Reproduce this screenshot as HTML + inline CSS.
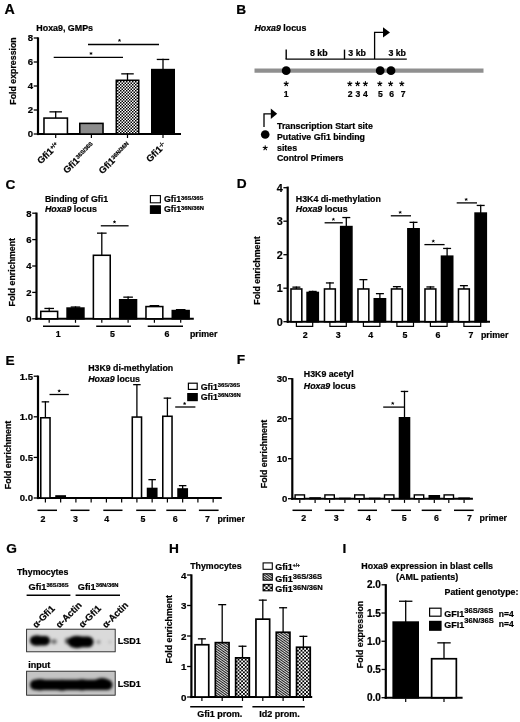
<!DOCTYPE html>
<html><head><meta charset="utf-8"><title>Figure</title>
<style>
html,body{margin:0;padding:0;background:#fff;}
body{width:520px;height:722px;overflow:hidden;}
svg{display:block;filter:blur(0.45px);}
svg text{font-family:"Liberation Sans",sans-serif;font-weight:bold;fill:#000;stroke:#000;stroke-width:0.22px;}
</style></head><body>
<svg width="520" height="722" viewBox="0 0 520 722">
<rect width="520" height="722" fill="#fff"/>
<defs>
<pattern id="chk" width="3" height="3" patternUnits="userSpaceOnUse">
<rect width="3" height="3" fill="#fff"/><rect width="1.5" height="1.5" fill="#000"/><rect x="1.5" y="1.5" width="1.5" height="1.5" fill="#000"/>
</pattern>
<pattern id="chk2" width="3.6" height="3.6" patternUnits="userSpaceOnUse">
<rect width="3.6" height="3.6" fill="#fff"/><rect width="1.8" height="1.8" fill="#000"/><rect x="1.8" y="1.8" width="1.8" height="1.8" fill="#000"/>
</pattern>
<pattern id="hat" width="2" height="2" patternUnits="userSpaceOnUse" patternTransform="rotate(-55)">
<rect width="2" height="2" fill="#f4f4f4"/><rect width="1.1" height="2" fill="#1c1c1c"/>
</pattern>
<pattern id="chk3" x="263.1" y="584.4" width="4.6" height="4.6" patternUnits="userSpaceOnUse">
<rect width="4.6" height="4.6" fill="#fff"/><rect width="2.3" height="2.3" fill="#000"/><rect x="2.3" y="2.3" width="2.3" height="2.3" fill="#000"/>
</pattern>
<filter id="b1" x="-20%" y="-50%" width="140%" height="200%"><feGaussianBlur stdDeviation="1.4"/></filter>
<filter id="b2" x="-20%" y="-50%" width="140%" height="200%"><feGaussianBlur stdDeviation="1.7"/></filter>
</defs>
<text x="4.6" y="14.4" font-size="14.2">A</text>
<text x="36.3" y="31.4" font-size="8.9">Hoxa9, GMPs</text>
<line x1="38" y1="37.35" x2="38" y2="135.1" stroke="#000" stroke-width="2.2"/>
<line x1="33.699999999999996" y1="38.0" x2="38" y2="38.0" stroke="#000" stroke-width="1.3"/>
<text x="33.099999999999994" y="41.4368" font-size="9.6" text-anchor="end">8</text>
<line x1="33.699999999999996" y1="62.0" x2="38" y2="62.0" stroke="#000" stroke-width="1.3"/>
<text x="33.099999999999994" y="65.4368" font-size="9.6" text-anchor="end">6</text>
<line x1="33.699999999999996" y1="86.0" x2="38" y2="86.0" stroke="#000" stroke-width="1.3"/>
<text x="33.099999999999994" y="89.4368" font-size="9.6" text-anchor="end">4</text>
<line x1="33.699999999999996" y1="110.0" x2="38" y2="110.0" stroke="#000" stroke-width="1.3"/>
<text x="33.099999999999994" y="113.4368" font-size="9.6" text-anchor="end">2</text>
<line x1="33.699999999999996" y1="134.0" x2="38" y2="134.0" stroke="#000" stroke-width="1.3"/>
<text x="33.099999999999994" y="137.4368" font-size="9.6" text-anchor="end">0</text>
<line x1="37" y1="134.0" x2="181" y2="134.0" stroke="#000" stroke-width="2"/>
<text x="15.8504" y="71" font-size="8.8" text-anchor="middle" transform="rotate(-90 15.8504 71)">Fold expression</text>
<line x1="55.7" y1="111.2" x2="55.7" y2="118.3" stroke="#000" stroke-width="1.3"/>
<line x1="49.45" y1="111.85000000000001" x2="61.95" y2="111.85000000000001" stroke="#000" stroke-width="1.3"/>
<rect x="43.98" y="118.08" width="23.45" height="15.93" fill="#fff" stroke="#000" stroke-width="1.55"/>
<line x1="55.7" y1="135.0" x2="55.7" y2="138.0" stroke="#000" stroke-width="1.2"/>
<rect x="79.78" y="123.38" width="23.25" height="10.63" fill="#8c8c8c" stroke="#000" stroke-width="1.55"/>
<line x1="91.4" y1="135.0" x2="91.4" y2="138.0" stroke="#000" stroke-width="1.2"/>
<line x1="127.5" y1="73.2" x2="127.5" y2="80.5" stroke="#000" stroke-width="1.3"/>
<line x1="121.25" y1="73.85000000000001" x2="133.75" y2="73.85000000000001" stroke="#000" stroke-width="1.3"/>
<rect x="116.28" y="80.28" width="22.45" height="53.73" fill="url(#chk)" stroke="#000" stroke-width="1.55"/>
<line x1="127.5" y1="135.0" x2="127.5" y2="138.0" stroke="#000" stroke-width="1.2"/>
<line x1="163.0" y1="58.8" x2="163.0" y2="69.8" stroke="#000" stroke-width="1.3"/>
<line x1="156.75" y1="59.449999999999996" x2="169.25" y2="59.449999999999996" stroke="#000" stroke-width="1.3"/>
<rect x="151.78" y="69.58" width="22.45" height="64.42" fill="#000" stroke="#000" stroke-width="1.55"/>
<line x1="163.0" y1="135.0" x2="163.0" y2="138.0" stroke="#000" stroke-width="1.2"/>
<line x1="88" y1="44.5" x2="159" y2="44.5" stroke="#000" stroke-width="1.3"/>
<path d="M119.50,40.50 L119.50,39.37 M119.50,40.50 L120.58,40.15 M119.50,40.50 L120.17,41.42 M119.50,40.50 L118.83,41.42 M119.50,40.50 L118.42,40.15 " stroke="#000" stroke-width="0.80" stroke-linecap="round" fill="none"/>
<circle cx="119.50" cy="40.50" r="0.60" fill="#000"/>
<line x1="53.7" y1="57.3" x2="123" y2="57.3" stroke="#000" stroke-width="1.3"/>
<path d="M91.00,53.50 L91.00,52.37 M91.00,53.50 L92.08,53.15 M91.00,53.50 L91.67,54.42 M91.00,53.50 L90.33,54.42 M91.00,53.50 L89.92,53.15 " stroke="#000" stroke-width="0.80" stroke-linecap="round" fill="none"/>
<circle cx="91.00" cy="53.50" r="0.60" fill="#000"/>
<text x="59.6" y="146.0" font-size="9.4" text-anchor="end" transform="rotate(-45 59.6 146.0)">Gfi1<tspan font-size="5.6" dy="-2.8">+/+</tspan></text>
<text x="95.19999999999999" y="146.0" font-size="9.4" text-anchor="end" transform="rotate(-45 95.19999999999999 146.0)">Gfi1<tspan font-size="5.6" dy="-2.8">36S/36S</tspan></text>
<text x="131.1" y="146.0" font-size="9.4" text-anchor="end" transform="rotate(-45 131.1 146.0)">Gfi1<tspan font-size="5.6" dy="-2.8">36N/36N</tspan></text>
<text x="166.6" y="146.0" font-size="9.4" text-anchor="end" transform="rotate(-45 166.6 146.0)">Gfi1<tspan font-size="5.6" dy="-2.8">-/-</tspan></text>
<text x="236.3" y="14.0" font-size="13.7">B</text>
<text x="254.5" y="31.3" font-size="8.8"><tspan font-style="italic">Hoxa9</tspan> locus</text>
<line x1="285.5" y1="59.1" x2="406.8" y2="59.1" stroke="#000" stroke-width="1.4"/>
<line x1="286.2" y1="49.6" x2="286.2" y2="59.1" stroke="#000" stroke-width="1.4"/>
<line x1="344.5" y1="49.6" x2="344.5" y2="59.1" stroke="#000" stroke-width="1.4"/>
<path d="M374.6,59.1 V32.4 H384" fill="none" stroke="#000" stroke-width="1.3"/>
<path d="M383,27.2 L390,32.4 L383,37.6 Z" fill="#000"/>
<text x="310" y="56.2" font-size="8.8">8 kb</text>
<text x="348.3" y="56.2" font-size="8.8">3 kb</text>
<text x="388.4" y="56.2" font-size="8.8">3 kb</text>
<line x1="254.5" y1="70.7" x2="483.5" y2="70.7" stroke="#8f8f8f" stroke-width="4.2"/>
<circle cx="286.2" cy="70.7" r="4.4" fill="#000"/>
<circle cx="380.2" cy="70.7" r="4.4" fill="#000"/>
<circle cx="391.0" cy="70.7" r="4.4" fill="#000"/>
<path d="M286.20,83.80 L286.20,81.64 M286.20,83.80 L288.25,83.13 M286.20,83.80 L287.47,85.55 M286.20,83.80 L284.93,85.55 M286.20,83.80 L284.15,83.13 " stroke="#000" stroke-width="1.12" stroke-linecap="round" fill="none"/>
<circle cx="286.20" cy="83.80" r="0.84" fill="#000"/>
<path d="M349.80,83.80 L349.80,81.64 M349.80,83.80 L351.85,83.13 M349.80,83.80 L351.07,85.55 M349.80,83.80 L348.53,85.55 M349.80,83.80 L347.75,83.13 " stroke="#000" stroke-width="1.12" stroke-linecap="round" fill="none"/>
<circle cx="349.80" cy="83.80" r="0.84" fill="#000"/>
<path d="M357.60,83.80 L357.60,81.64 M357.60,83.80 L359.65,83.13 M357.60,83.80 L358.87,85.55 M357.60,83.80 L356.33,85.55 M357.60,83.80 L355.55,83.13 " stroke="#000" stroke-width="1.12" stroke-linecap="round" fill="none"/>
<circle cx="357.60" cy="83.80" r="0.84" fill="#000"/>
<path d="M365.40,83.80 L365.40,81.64 M365.40,83.80 L367.45,83.13 M365.40,83.80 L366.67,85.55 M365.40,83.80 L364.13,85.55 M365.40,83.80 L363.35,83.13 " stroke="#000" stroke-width="1.12" stroke-linecap="round" fill="none"/>
<circle cx="365.40" cy="83.80" r="0.84" fill="#000"/>
<path d="M379.80,83.80 L379.80,81.64 M379.80,83.80 L381.85,83.13 M379.80,83.80 L381.07,85.55 M379.80,83.80 L378.53,85.55 M379.80,83.80 L377.75,83.13 " stroke="#000" stroke-width="1.12" stroke-linecap="round" fill="none"/>
<circle cx="379.80" cy="83.80" r="0.84" fill="#000"/>
<path d="M390.60,83.80 L390.60,81.64 M390.60,83.80 L392.65,83.13 M390.60,83.80 L391.87,85.55 M390.60,83.80 L389.33,85.55 M390.60,83.80 L388.55,83.13 " stroke="#000" stroke-width="1.12" stroke-linecap="round" fill="none"/>
<circle cx="390.60" cy="83.80" r="0.84" fill="#000"/>
<path d="M401.80,83.80 L401.80,81.64 M401.80,83.80 L403.85,83.13 M401.80,83.80 L403.07,85.55 M401.80,83.80 L400.53,85.55 M401.80,83.80 L399.75,83.13 " stroke="#000" stroke-width="1.12" stroke-linecap="round" fill="none"/>
<circle cx="401.80" cy="83.80" r="0.84" fill="#000"/>
<text x="286.2" y="97.0" font-size="8.6" text-anchor="middle">1</text>
<text x="350.2" y="97.0" font-size="8.6" text-anchor="middle">2</text>
<text x="357.8" y="97.0" font-size="8.6" text-anchor="middle">3</text>
<text x="365.4" y="97.0" font-size="8.6" text-anchor="middle">4</text>
<text x="380.4" y="97.0" font-size="8.6" text-anchor="middle">5</text>
<text x="391.6" y="97.0" font-size="8.6" text-anchor="middle">6</text>
<text x="403.2" y="97.0" font-size="8.6" text-anchor="middle">7</text>
<path d="M264,127 V113.8 H271.5" fill="none" stroke="#000" stroke-width="1.3"/>
<path d="M270.8,108.6 L277.2,113.8 L270.8,119 Z" fill="#000"/>
<circle cx="265.2" cy="134.5" r="4.3" fill="#000"/>
<path d="M265.20,148.00 L265.20,145.84 M265.20,148.00 L267.25,147.33 M265.20,148.00 L266.47,149.75 M265.20,148.00 L263.93,149.75 M265.20,148.00 L263.15,147.33 " stroke="#000" stroke-width="1.12" stroke-linecap="round" fill="none"/>
<circle cx="265.20" cy="148.00" r="0.84" fill="#000"/>
<text x="277" y="128.6" font-size="8.8">Transcription Start site</text>
<text x="277" y="139.9" font-size="8.8">Putative Gfi1 binding</text>
<text x="277" y="150.7" font-size="8.8">sites</text>
<text x="277" y="160.8" font-size="8.8">Control Primers</text>
<text x="5.5" y="189.0" font-size="13.7">C</text>
<text x="45" y="201.9" font-size="8.8">Binding of Gfi1</text>
<text x="45" y="212.3" font-size="8.8"><tspan font-style="italic">Hoxa9</tspan> locus</text>
<line x1="36.5" y1="212.54999999999998" x2="36.5" y2="319.90000000000003" stroke="#000" stroke-width="2.2"/>
<line x1="32.199999999999996" y1="213.20000000000002" x2="36.5" y2="213.20000000000002" stroke="#000" stroke-width="1.3"/>
<text x="31.599999999999994" y="216.60100000000003" font-size="9.5" text-anchor="end">8</text>
<line x1="32.199999999999996" y1="239.60000000000002" x2="36.5" y2="239.60000000000002" stroke="#000" stroke-width="1.3"/>
<text x="31.599999999999994" y="243.00100000000003" font-size="9.5" text-anchor="end">6</text>
<line x1="32.199999999999996" y1="266.0" x2="36.5" y2="266.0" stroke="#000" stroke-width="1.3"/>
<text x="31.599999999999994" y="269.401" font-size="9.5" text-anchor="end">4</text>
<line x1="32.199999999999996" y1="292.40000000000003" x2="36.5" y2="292.40000000000003" stroke="#000" stroke-width="1.3"/>
<text x="31.599999999999994" y="295.80100000000004" font-size="9.5" text-anchor="end">2</text>
<line x1="32.199999999999996" y1="318.8" x2="36.5" y2="318.8" stroke="#000" stroke-width="1.3"/>
<text x="31.599999999999994" y="322.201" font-size="9.5" text-anchor="end">0</text>
<line x1="35.4" y1="318.8" x2="193.8" y2="318.8" stroke="#000" stroke-width="2"/>
<text x="14.5504" y="272.2" font-size="8.8" text-anchor="middle" transform="rotate(-90 14.5504 272.2)">Fold enrichment</text>
<line x1="49.2" y1="307.8" x2="49.2" y2="311.6" stroke="#000" stroke-width="1.3"/>
<line x1="44.400000000000006" y1="308.45" x2="54.0" y2="308.45" stroke="#000" stroke-width="1.3"/>
<rect x="40.77" y="311.38" width="16.85" height="7.42" fill="#fff" stroke="#000" stroke-width="1.55"/>
<line x1="49.2" y1="319.8" x2="49.2" y2="322.8" stroke="#000" stroke-width="1.2"/>
<line x1="75.5" y1="306.4" x2="75.5" y2="308.3" stroke="#000" stroke-width="1.3"/>
<line x1="70.7" y1="307.04999999999995" x2="80.3" y2="307.04999999999995" stroke="#000" stroke-width="1.3"/>
<rect x="67.08" y="308.07" width="16.85" height="10.72" fill="#000" stroke="#000" stroke-width="1.55"/>
<line x1="75.5" y1="319.8" x2="75.5" y2="322.8" stroke="#000" stroke-width="1.2"/>
<line x1="101.8" y1="232.5" x2="101.8" y2="255.5" stroke="#000" stroke-width="1.3"/>
<line x1="97.0" y1="233.15" x2="106.6" y2="233.15" stroke="#000" stroke-width="1.3"/>
<rect x="93.38" y="255.28" width="16.85" height="63.53" fill="#fff" stroke="#000" stroke-width="1.55"/>
<line x1="101.8" y1="319.8" x2="101.8" y2="322.8" stroke="#000" stroke-width="1.2"/>
<line x1="128.10000000000002" y1="296.5" x2="128.10000000000002" y2="300.0" stroke="#000" stroke-width="1.3"/>
<line x1="123.30000000000003" y1="297.15" x2="132.90000000000003" y2="297.15" stroke="#000" stroke-width="1.3"/>
<rect x="119.68" y="299.77" width="16.85" height="19.03" fill="#000" stroke="#000" stroke-width="1.55"/>
<line x1="128.10000000000002" y1="319.8" x2="128.10000000000002" y2="322.8" stroke="#000" stroke-width="1.2"/>
<line x1="154.39999999999998" y1="305.0" x2="154.39999999999998" y2="306.8" stroke="#000" stroke-width="1.3"/>
<line x1="149.59999999999997" y1="305.65" x2="159.2" y2="305.65" stroke="#000" stroke-width="1.3"/>
<rect x="145.97" y="306.57" width="16.85" height="12.22" fill="#fff" stroke="#000" stroke-width="1.55"/>
<line x1="154.39999999999998" y1="319.8" x2="154.39999999999998" y2="322.8" stroke="#000" stroke-width="1.2"/>
<line x1="180.7" y1="309.0" x2="180.7" y2="310.8" stroke="#000" stroke-width="1.3"/>
<line x1="175.89999999999998" y1="309.65" x2="185.5" y2="309.65" stroke="#000" stroke-width="1.3"/>
<rect x="172.28" y="310.57" width="16.85" height="8.22" fill="#000" stroke="#000" stroke-width="1.55"/>
<line x1="180.7" y1="319.8" x2="180.7" y2="322.8" stroke="#000" stroke-width="1.2"/>
<line x1="43" y1="326.3" x2="79.5" y2="326.3" stroke="#000" stroke-width="1.5"/>
<line x1="96.2" y1="326.3" x2="131" y2="326.3" stroke="#000" stroke-width="1.5"/>
<line x1="147.7" y1="326.3" x2="183" y2="326.3" stroke="#000" stroke-width="1.5"/>
<text x="58.2" y="336.9" font-size="8.8" text-anchor="middle">1</text>
<text x="112.5" y="336.9" font-size="8.8" text-anchor="middle">5</text>
<text x="167" y="336.9" font-size="8.8" text-anchor="middle">6</text>
<text x="190" y="336.9" font-size="8.8">primer</text>
<line x1="100.8" y1="225.8" x2="128.6" y2="225.8" stroke="#000" stroke-width="1.3"/>
<path d="M114.50,222.00 L114.50,220.87 M114.50,222.00 L115.58,221.65 M114.50,222.00 L115.17,222.92 M114.50,222.00 L113.83,222.92 M114.50,222.00 L113.42,221.65 " stroke="#000" stroke-width="0.80" stroke-linecap="round" fill="none"/>
<circle cx="114.50" cy="222.00" r="0.60" fill="#000"/>
<rect x="150.40" y="195.60" width="10.00" height="7.20" fill="#fff" stroke="#000" stroke-width="1.1"/>
<rect x="150.40" y="205.80" width="10.00" height="7.60" fill="#000" stroke="#000" stroke-width="1.1"/>
<text x="164" y="202.2" font-size="8.8">Gfi1<tspan font-size="5.8" dy="-2.4">36S/36S</tspan></text>
<text x="164" y="212.0" font-size="8.8">Gfi1<tspan font-size="5.8" dy="-2.4">36N/36N</tspan></text>
<text x="236.7" y="188.0" font-size="13.7">D</text>
<text x="295.8" y="202.0" font-size="8.8">H3K4 di-methylation</text>
<text x="295.8" y="212.3" font-size="8.8"><tspan font-style="italic">Hoxa9</tspan> locus</text>
<line x1="287.7" y1="186.54999999999998" x2="287.7" y2="322.8" stroke="#000" stroke-width="2.2"/>
<line x1="283.4" y1="187.7" x2="287.7" y2="187.7" stroke="#000" stroke-width="1.3"/>
<text x="282.79999999999995" y="191.5664" font-size="10.8" text-anchor="end">4</text>
<line x1="283.4" y1="221.2" x2="287.7" y2="221.2" stroke="#000" stroke-width="1.3"/>
<text x="282.79999999999995" y="225.0664" font-size="10.8" text-anchor="end">3</text>
<line x1="283.4" y1="254.7" x2="287.7" y2="254.7" stroke="#000" stroke-width="1.3"/>
<text x="282.79999999999995" y="258.5664" font-size="10.8" text-anchor="end">2</text>
<line x1="283.4" y1="288.2" x2="287.7" y2="288.2" stroke="#000" stroke-width="1.3"/>
<text x="282.79999999999995" y="292.0664" font-size="10.8" text-anchor="end">1</text>
<line x1="283.4" y1="321.7" x2="287.7" y2="321.7" stroke="#000" stroke-width="1.3"/>
<text x="282.79999999999995" y="325.5664" font-size="10.8" text-anchor="end">0</text>
<line x1="286.9" y1="321.7" x2="490" y2="321.7" stroke="#000" stroke-width="2"/>
<text x="259.55039999999997" y="270.5" font-size="8.8" text-anchor="middle" transform="rotate(-90 259.55039999999997 270.5)">Fold enrichment</text>
<line x1="296.4" y1="286.5" x2="296.4" y2="289.2" stroke="#000" stroke-width="1.3"/>
<line x1="292.4" y1="287.15" x2="300.4" y2="287.15" stroke="#000" stroke-width="1.3"/>
<rect x="290.97" y="288.97" width="10.85" height="32.73" fill="#fff" stroke="#000" stroke-width="1.55"/>
<line x1="312.70000000000005" y1="290.8" x2="312.70000000000005" y2="292.7" stroke="#000" stroke-width="1.3"/>
<line x1="308.70000000000005" y1="291.45" x2="316.70000000000005" y2="291.45" stroke="#000" stroke-width="1.3"/>
<rect x="307.07" y="292.47" width="11.25" height="29.23" fill="#000" stroke="#000" stroke-width="1.55"/>
<path d="M296.40,321.7 V326.3 H312.70 V321.7" fill="none" stroke="#000" stroke-width="1.2"/>
<line x1="329.9" y1="282.3" x2="329.9" y2="289.2" stroke="#000" stroke-width="1.3"/>
<line x1="325.9" y1="282.95" x2="333.9" y2="282.95" stroke="#000" stroke-width="1.3"/>
<rect x="324.47" y="288.97" width="10.85" height="32.73" fill="#fff" stroke="#000" stroke-width="1.55"/>
<line x1="346.30000000000007" y1="216.9" x2="346.30000000000007" y2="226.8" stroke="#000" stroke-width="1.3"/>
<line x1="342.30000000000007" y1="217.55" x2="350.30000000000007" y2="217.55" stroke="#000" stroke-width="1.3"/>
<rect x="340.68" y="226.58" width="11.25" height="95.12" fill="#000" stroke="#000" stroke-width="1.55"/>
<path d="M329.90,321.7 V326.3 H346.30 V321.7" fill="none" stroke="#000" stroke-width="1.2"/>
<line x1="363.4" y1="279.0" x2="363.4" y2="289.2" stroke="#000" stroke-width="1.3"/>
<line x1="359.4" y1="279.65" x2="367.4" y2="279.65" stroke="#000" stroke-width="1.3"/>
<rect x="357.97" y="288.97" width="10.85" height="32.73" fill="#fff" stroke="#000" stroke-width="1.55"/>
<line x1="379.9" y1="293.0" x2="379.9" y2="299.0" stroke="#000" stroke-width="1.3"/>
<line x1="375.9" y1="293.65" x2="383.9" y2="293.65" stroke="#000" stroke-width="1.3"/>
<rect x="374.27" y="298.77" width="11.25" height="22.92" fill="#000" stroke="#000" stroke-width="1.55"/>
<path d="M363.40,321.7 V326.3 H379.90 V321.7" fill="none" stroke="#000" stroke-width="1.2"/>
<line x1="396.9" y1="286.0" x2="396.9" y2="289.2" stroke="#000" stroke-width="1.3"/>
<line x1="392.9" y1="286.65" x2="400.9" y2="286.65" stroke="#000" stroke-width="1.3"/>
<rect x="391.47" y="288.97" width="10.85" height="32.73" fill="#fff" stroke="#000" stroke-width="1.55"/>
<line x1="413.5" y1="221.7" x2="413.5" y2="229.0" stroke="#000" stroke-width="1.3"/>
<line x1="409.5" y1="222.35" x2="417.5" y2="222.35" stroke="#000" stroke-width="1.3"/>
<rect x="407.88" y="228.78" width="11.25" height="92.92" fill="#000" stroke="#000" stroke-width="1.55"/>
<path d="M396.90,321.7 V326.3 H413.50 V321.7" fill="none" stroke="#000" stroke-width="1.2"/>
<line x1="430.4" y1="286.3" x2="430.4" y2="289.2" stroke="#000" stroke-width="1.3"/>
<line x1="426.4" y1="286.95" x2="434.4" y2="286.95" stroke="#000" stroke-width="1.3"/>
<rect x="424.97" y="288.97" width="10.85" height="32.73" fill="#fff" stroke="#000" stroke-width="1.55"/>
<line x1="447.1" y1="247.8" x2="447.1" y2="256.4" stroke="#000" stroke-width="1.3"/>
<line x1="443.1" y1="248.45000000000002" x2="451.1" y2="248.45000000000002" stroke="#000" stroke-width="1.3"/>
<rect x="441.48" y="256.18" width="11.25" height="65.52" fill="#000" stroke="#000" stroke-width="1.55"/>
<path d="M430.40,321.7 V326.3 H447.10 V321.7" fill="none" stroke="#000" stroke-width="1.2"/>
<line x1="463.9" y1="285.0" x2="463.9" y2="289.2" stroke="#000" stroke-width="1.3"/>
<line x1="459.9" y1="285.65" x2="467.9" y2="285.65" stroke="#000" stroke-width="1.3"/>
<rect x="458.47" y="288.97" width="10.85" height="32.73" fill="#fff" stroke="#000" stroke-width="1.55"/>
<line x1="480.70000000000005" y1="204.8" x2="480.70000000000005" y2="213.3" stroke="#000" stroke-width="1.3"/>
<line x1="476.70000000000005" y1="205.45000000000002" x2="484.70000000000005" y2="205.45000000000002" stroke="#000" stroke-width="1.3"/>
<rect x="475.07" y="213.08" width="11.25" height="108.62" fill="#000" stroke="#000" stroke-width="1.55"/>
<path d="M463.90,321.7 V326.3 H480.70 V321.7" fill="none" stroke="#000" stroke-width="1.2"/>
<text x="305.2" y="337.5" font-size="8.8" text-anchor="middle">2</text>
<text x="338.3" y="337.5" font-size="8.8" text-anchor="middle">3</text>
<text x="370.6" y="337.5" font-size="8.8" text-anchor="middle">4</text>
<text x="405" y="337.5" font-size="8.8" text-anchor="middle">5</text>
<text x="437.9" y="337.5" font-size="8.8" text-anchor="middle">6</text>
<text x="471" y="337.5" font-size="8.8" text-anchor="middle">7</text>
<text x="481" y="337.5" font-size="8.8">primer</text>
<line x1="324.6" y1="222.8" x2="342.8" y2="222.8" stroke="#000" stroke-width="1.3"/>
<path d="M333.40,219.40 L333.40,218.27 M333.40,219.40 L334.48,219.05 M333.40,219.40 L334.07,220.32 M333.40,219.40 L332.73,220.32 M333.40,219.40 L332.32,219.05 " stroke="#000" stroke-width="0.80" stroke-linecap="round" fill="none"/>
<circle cx="333.40" cy="219.40" r="0.60" fill="#000"/>
<line x1="390.8" y1="215.8" x2="411" y2="215.8" stroke="#000" stroke-width="1.3"/>
<path d="M400.20,212.40 L400.20,211.27 M400.20,212.40 L401.28,212.05 M400.20,212.40 L400.87,213.32 M400.20,212.40 L399.53,213.32 M400.20,212.40 L399.12,212.05 " stroke="#000" stroke-width="0.80" stroke-linecap="round" fill="none"/>
<circle cx="400.20" cy="212.40" r="0.60" fill="#000"/>
<line x1="424.4" y1="244.6" x2="444.6" y2="244.6" stroke="#000" stroke-width="1.3"/>
<path d="M433.30,241.20 L433.30,240.07 M433.30,241.20 L434.38,240.85 M433.30,241.20 L433.97,242.12 M433.30,241.20 L432.63,242.12 M433.30,241.20 L432.22,240.85 " stroke="#000" stroke-width="0.80" stroke-linecap="round" fill="none"/>
<circle cx="433.30" cy="241.20" r="0.60" fill="#000"/>
<line x1="456.7" y1="202.9" x2="477" y2="202.9" stroke="#000" stroke-width="1.3"/>
<path d="M466.20,199.50 L466.20,198.37 M466.20,199.50 L467.28,199.15 M466.20,199.50 L466.87,200.42 M466.20,199.50 L465.53,200.42 M466.20,199.50 L465.12,199.15 " stroke="#000" stroke-width="0.80" stroke-linecap="round" fill="none"/>
<circle cx="466.20" cy="199.50" r="0.60" fill="#000"/>
<text x="5.5" y="364.8" font-size="13.7">E</text>
<text x="88.2" y="371.0" font-size="8.8">H3K9 di-methylation</text>
<text x="88.2" y="381.6" font-size="8.8"><tspan font-style="italic">Hoxa9</tspan> locus</text>
<line x1="38" y1="375.55" x2="38" y2="499.1" stroke="#000" stroke-width="2.2"/>
<line x1="33.699999999999996" y1="376.2" x2="38" y2="376.2" stroke="#000" stroke-width="1.3"/>
<text x="33.099999999999994" y="379.6368" font-size="9.6" text-anchor="end">1.5</text>
<line x1="33.699999999999996" y1="416.8" x2="38" y2="416.8" stroke="#000" stroke-width="1.3"/>
<text x="33.099999999999994" y="420.2368" font-size="9.6" text-anchor="end">1.0</text>
<line x1="33.699999999999996" y1="457.4" x2="38" y2="457.4" stroke="#000" stroke-width="1.3"/>
<text x="33.099999999999994" y="460.8368" font-size="9.6" text-anchor="end">0.5</text>
<line x1="33.699999999999996" y1="498.0" x2="38" y2="498.0" stroke="#000" stroke-width="1.3"/>
<text x="33.099999999999994" y="501.4368" font-size="9.6" text-anchor="end">0.0</text>
<line x1="37" y1="498.0" x2="221.8" y2="498.0" stroke="#000" stroke-width="2"/>
<text x="11.150400000000001" y="455" font-size="8.8" text-anchor="middle" transform="rotate(-90 11.150400000000001 455)">Fold enrichment</text>
<line x1="45.4" y1="401.2" x2="45.4" y2="418.0" stroke="#000" stroke-width="1.3"/>
<line x1="41.65" y1="401.84999999999997" x2="49.15" y2="401.84999999999997" stroke="#000" stroke-width="1.3"/>
<rect x="40.77" y="417.77" width="9.25" height="80.22" fill="#fff" stroke="#000" stroke-width="1.55"/>
<line x1="45.4" y1="499.0" x2="45.4" y2="502.5" stroke="#000" stroke-width="1.2"/>
<rect x="56.02" y="495.97" width="9.25" height="2.03" fill="#000" stroke="#000" stroke-width="1.55"/>
<line x1="60.65" y1="499.0" x2="60.65" y2="502.5" stroke="#000" stroke-width="1.2"/>
<line x1="75.9" y1="499.0" x2="75.9" y2="502.5" stroke="#000" stroke-width="1.2"/>
<line x1="91.15" y1="499.0" x2="91.15" y2="502.5" stroke="#000" stroke-width="1.2"/>
<line x1="106.4" y1="499.0" x2="106.4" y2="502.5" stroke="#000" stroke-width="1.2"/>
<line x1="121.65" y1="499.0" x2="121.65" y2="502.5" stroke="#000" stroke-width="1.2"/>
<line x1="136.9" y1="384.0" x2="136.9" y2="417.3" stroke="#000" stroke-width="1.3"/>
<line x1="133.15" y1="384.65" x2="140.65" y2="384.65" stroke="#000" stroke-width="1.3"/>
<rect x="132.28" y="417.07" width="9.25" height="80.92" fill="#fff" stroke="#000" stroke-width="1.55"/>
<line x1="136.9" y1="499.0" x2="136.9" y2="502.5" stroke="#000" stroke-width="1.2"/>
<line x1="152.15" y1="479.0" x2="152.15" y2="488.7" stroke="#000" stroke-width="1.3"/>
<line x1="148.4" y1="479.65" x2="155.9" y2="479.65" stroke="#000" stroke-width="1.3"/>
<rect x="147.53" y="488.47" width="9.25" height="9.53" fill="#000" stroke="#000" stroke-width="1.55"/>
<line x1="152.15" y1="499.0" x2="152.15" y2="502.5" stroke="#000" stroke-width="1.2"/>
<line x1="167.4" y1="397.5" x2="167.4" y2="416.5" stroke="#000" stroke-width="1.3"/>
<line x1="163.65" y1="398.15" x2="171.15" y2="398.15" stroke="#000" stroke-width="1.3"/>
<rect x="162.78" y="416.27" width="9.25" height="81.72" fill="#fff" stroke="#000" stroke-width="1.55"/>
<line x1="167.4" y1="499.0" x2="167.4" y2="502.5" stroke="#000" stroke-width="1.2"/>
<line x1="182.65" y1="485.0" x2="182.65" y2="489.2" stroke="#000" stroke-width="1.3"/>
<line x1="178.9" y1="485.65" x2="186.4" y2="485.65" stroke="#000" stroke-width="1.3"/>
<rect x="178.03" y="488.97" width="9.25" height="9.03" fill="#000" stroke="#000" stroke-width="1.55"/>
<line x1="182.65" y1="499.0" x2="182.65" y2="502.5" stroke="#000" stroke-width="1.2"/>
<line x1="197.9" y1="499.0" x2="197.9" y2="502.5" stroke="#000" stroke-width="1.2"/>
<line x1="213.15" y1="499.0" x2="213.15" y2="502.5" stroke="#000" stroke-width="1.2"/>
<line x1="37.5" y1="510.3" x2="57" y2="510.3" stroke="#000" stroke-width="1.5"/>
<line x1="70.5" y1="510.3" x2="89.5" y2="510.3" stroke="#000" stroke-width="1.5"/>
<line x1="103.3" y1="510.3" x2="122.5" y2="510.3" stroke="#000" stroke-width="1.5"/>
<line x1="136.2" y1="510.3" x2="155.8" y2="510.3" stroke="#000" stroke-width="1.5"/>
<line x1="166.3" y1="510.3" x2="186" y2="510.3" stroke="#000" stroke-width="1.5"/>
<line x1="198.9" y1="510.3" x2="218.6" y2="510.3" stroke="#000" stroke-width="1.5"/>
<text x="43.0" y="521.6" font-size="8.8" text-anchor="middle">2</text>
<text x="75.5" y="521.6" font-size="8.8" text-anchor="middle">3</text>
<text x="106.8" y="521.6" font-size="8.8" text-anchor="middle">4</text>
<text x="142.9" y="521.6" font-size="8.8" text-anchor="middle">5</text>
<text x="175.2" y="521.6" font-size="8.8" text-anchor="middle">6</text>
<text x="207.5" y="521.6" font-size="8.8" text-anchor="middle">7</text>
<text x="217.5" y="521.6" font-size="8.8">primer</text>
<line x1="49.5" y1="394.5" x2="68.8" y2="394.5" stroke="#000" stroke-width="1.3"/>
<path d="M59.20,391.00 L59.20,389.87 M59.20,391.00 L60.28,390.65 M59.20,391.00 L59.87,391.92 M59.20,391.00 L58.53,391.92 M59.20,391.00 L58.12,390.65 " stroke="#000" stroke-width="0.80" stroke-linecap="round" fill="none"/>
<circle cx="59.20" cy="391.00" r="0.60" fill="#000"/>
<line x1="175.2" y1="407.0" x2="195.4" y2="407.0" stroke="#000" stroke-width="1.3"/>
<path d="M184.60,403.60 L184.60,402.47 M184.60,403.60 L185.68,403.25 M184.60,403.60 L185.27,404.52 M184.60,403.60 L183.93,404.52 M184.60,403.60 L183.52,403.25 " stroke="#000" stroke-width="0.80" stroke-linecap="round" fill="none"/>
<circle cx="184.60" cy="403.60" r="0.60" fill="#000"/>
<rect x="188.40" y="383.20" width="8.80" height="6.20" fill="#fff" stroke="#000" stroke-width="1.2"/>
<rect x="187.80" y="393.60" width="9.40" height="7.00" fill="#000" stroke="#000" stroke-width="1.2"/>
<text x="200.7" y="389.8" font-size="8.8">Gfi1<tspan font-size="5.8" dy="-2.4">36S/36S</tspan></text>
<text x="200.7" y="399.8" font-size="8.8">Gfi1<tspan font-size="5.8" dy="-2.4">36N/36N</tspan></text>
<text x="236.7" y="363.6" font-size="13.7">F</text>
<text x="303.8" y="376.6" font-size="8.8">H3K9 acetyl</text>
<text x="303.8" y="388.7" font-size="8.8"><tspan font-style="italic">Hoxa9</tspan> locus</text>
<line x1="292.3" y1="378.15000000000003" x2="292.3" y2="499.8" stroke="#000" stroke-width="2.2"/>
<line x1="288.0" y1="378.7" x2="292.3" y2="378.7" stroke="#000" stroke-width="1.3"/>
<text x="287.4" y="382.1368" font-size="9.6" text-anchor="end">30</text>
<line x1="288.0" y1="418.7" x2="292.3" y2="418.7" stroke="#000" stroke-width="1.3"/>
<text x="287.4" y="422.1368" font-size="9.6" text-anchor="end">20</text>
<line x1="288.0" y1="458.7" x2="292.3" y2="458.7" stroke="#000" stroke-width="1.3"/>
<text x="287.4" y="462.1368" font-size="9.6" text-anchor="end">10</text>
<line x1="288.0" y1="498.7" x2="292.3" y2="498.7" stroke="#000" stroke-width="1.3"/>
<text x="287.4" y="502.1368" font-size="9.6" text-anchor="end">0</text>
<line x1="291.2" y1="498.7" x2="472.9" y2="498.7" stroke="#000" stroke-width="2"/>
<text x="267.3504" y="454.0" font-size="8.8" text-anchor="middle" transform="rotate(-90 267.3504 454.0)">Fold enrichment</text>
<rect x="295.10" y="494.90" width="9.40" height="3.80" fill="#fff" stroke="#000" stroke-width="1.4"/>
<line x1="299.79999999999995" y1="499.7" x2="299.79999999999995" y2="502.9" stroke="#000" stroke-width="1.2"/>
<rect x="310.00" y="497.90" width="10.20" height="0.80" fill="#000" stroke="#000" stroke-width="1.4"/>
<line x1="315.09999999999997" y1="499.7" x2="315.09999999999997" y2="502.9" stroke="#000" stroke-width="1.2"/>
<rect x="324.90" y="494.90" width="9.40" height="3.80" fill="#fff" stroke="#000" stroke-width="1.4"/>
<line x1="329.6" y1="499.7" x2="329.6" y2="502.9" stroke="#000" stroke-width="1.2"/>
<rect x="339.80" y="498.30" width="10.20" height="0.40" fill="#000" stroke="#000" stroke-width="1.4"/>
<line x1="344.9" y1="499.7" x2="344.9" y2="502.9" stroke="#000" stroke-width="1.2"/>
<rect x="354.70" y="494.90" width="9.40" height="3.80" fill="#fff" stroke="#000" stroke-width="1.4"/>
<line x1="359.4" y1="499.7" x2="359.4" y2="502.9" stroke="#000" stroke-width="1.2"/>
<rect x="369.60" y="498.30" width="10.20" height="0.40" fill="#000" stroke="#000" stroke-width="1.4"/>
<line x1="374.7" y1="499.7" x2="374.7" y2="502.9" stroke="#000" stroke-width="1.2"/>
<rect x="384.50" y="494.90" width="9.40" height="3.80" fill="#fff" stroke="#000" stroke-width="1.4"/>
<line x1="389.19999999999993" y1="499.7" x2="389.19999999999993" y2="502.9" stroke="#000" stroke-width="1.2"/>
<line x1="404.5" y1="390.8" x2="404.5" y2="418" stroke="#000" stroke-width="1.3"/>
<line x1="400.8" y1="391.45" x2="408.2" y2="391.45" stroke="#000" stroke-width="1.3"/>
<rect x="399.40" y="417.70" width="10.20" height="81.00" fill="#000" stroke="#000" stroke-width="1.4"/>
<line x1="404.5" y1="499.7" x2="404.5" y2="502.9" stroke="#000" stroke-width="1.2"/>
<rect x="414.30" y="494.90" width="9.40" height="3.80" fill="#fff" stroke="#000" stroke-width="1.4"/>
<line x1="419.0" y1="499.7" x2="419.0" y2="502.9" stroke="#000" stroke-width="1.2"/>
<rect x="429.20" y="495.70" width="10.20" height="3.00" fill="#000" stroke="#000" stroke-width="1.4"/>
<line x1="434.3" y1="499.7" x2="434.3" y2="502.9" stroke="#000" stroke-width="1.2"/>
<rect x="444.10" y="494.90" width="9.40" height="3.80" fill="#fff" stroke="#000" stroke-width="1.4"/>
<line x1="448.79999999999995" y1="499.7" x2="448.79999999999995" y2="502.9" stroke="#000" stroke-width="1.2"/>
<rect x="459.00" y="498.10" width="10.20" height="0.60" fill="#000" stroke="#000" stroke-width="1.4"/>
<line x1="464.09999999999997" y1="499.7" x2="464.09999999999997" y2="502.9" stroke="#000" stroke-width="1.2"/>
<line x1="292.5" y1="510.3" x2="312" y2="510.3" stroke="#000" stroke-width="1.5"/>
<line x1="324.8" y1="510.3" x2="344.2" y2="510.3" stroke="#000" stroke-width="1.5"/>
<line x1="357.7" y1="510.3" x2="377" y2="510.3" stroke="#000" stroke-width="1.5"/>
<line x1="391.3" y1="510.3" x2="411" y2="510.3" stroke="#000" stroke-width="1.5"/>
<line x1="421.7" y1="510.3" x2="441.4" y2="510.3" stroke="#000" stroke-width="1.5"/>
<line x1="454" y1="510.3" x2="473.7" y2="510.3" stroke="#000" stroke-width="1.5"/>
<text x="303.8" y="520.8" font-size="8.8" text-anchor="middle">2</text>
<text x="336.2" y="520.8" font-size="8.8" text-anchor="middle">3</text>
<text x="368.5" y="520.8" font-size="8.8" text-anchor="middle">4</text>
<text x="404.2" y="520.8" font-size="8.8" text-anchor="middle">5</text>
<text x="436.5" y="520.8" font-size="8.8" text-anchor="middle">6</text>
<text x="469.4" y="520.8" font-size="8.8" text-anchor="middle">7</text>
<text x="479.6" y="520.8" font-size="8.8">primer</text>
<line x1="383.2" y1="407.1" x2="404.8" y2="407.1" stroke="#000" stroke-width="1.3"/>
<path d="M392.70,403.40 L392.70,402.27 M392.70,403.40 L393.78,403.05 M392.70,403.40 L393.37,404.32 M392.70,403.40 L392.03,404.32 M392.70,403.40 L391.62,403.05 " stroke="#000" stroke-width="0.80" stroke-linecap="round" fill="none"/>
<circle cx="392.70" cy="403.40" r="0.60" fill="#000"/>
<text x="6.2" y="552.8" font-size="13.7">G</text>
<text x="17.0" y="575.2" font-size="8.8">Thymocytes</text>
<text x="28.5" y="589.9" font-size="9.2">Gfi1<tspan font-size="5.8" dy="-2.8">36S/36S</tspan></text>
<text x="77.8" y="589.9" font-size="9.2">Gfi1<tspan font-size="5.8" dy="-2.8">36N/36N</tspan></text>
<line x1="26.6" y1="595.3" x2="70.4" y2="595.3" stroke="#000" stroke-width="1.5"/>
<line x1="75.6" y1="595.3" x2="120.0" y2="595.3" stroke="#000" stroke-width="1.5"/>
<text x="36.2" y="628.4" font-size="9.4" transform="rotate(-45 36.2 628.4)">α-Gfi1</text>
<text x="59.5" y="628.6" font-size="9.4" transform="rotate(-45 59.5 628.6)">α-Actin</text>
<text x="82.5" y="628.2" font-size="9.4" transform="rotate(-45 82.5 628.2)">α-Gfi1</text>
<text x="106" y="628.6" font-size="9.4" transform="rotate(-45 106 628.6)">α-Actin</text>
<rect x="26.60" y="629.20" width="88.60" height="22.60" fill="#dadada" stroke="#222" stroke-width="0.9"/>
<g filter="url(#b1)">
<rect x="30" y="636" width="20" height="9.4" rx="4.6" fill="#000"/>
<ellipse cx="37" cy="640.4" rx="7" ry="5.2" fill="#000"/>
<ellipse cx="54" cy="641.6" rx="2.8" ry="2.4" fill="#000" opacity="0.5"/>
<rect x="68" y="636.6" width="25.5" height="10.6" rx="5.2" fill="#000"/>
<ellipse cx="77" cy="642" rx="8" ry="6.2" fill="#000"/>
<ellipse cx="68" cy="641" rx="3.2" ry="3.2" fill="#000" opacity="0.6"/>
<ellipse cx="98.5" cy="642" rx="2" ry="2" fill="#000" opacity="0.35"/>
<ellipse cx="110" cy="642" rx="1.6" ry="1.6" fill="#000" opacity="0.15"/>
</g>
<rect x="26.60" y="671.20" width="88.60" height="24.00" fill="#c4c4c4" stroke="#222" stroke-width="0.9"/>
<g filter="url(#b2)">
<rect x="30" y="679.8" width="82.5" height="10.2" rx="5" fill="#000"/>
<ellipse cx="102" cy="684.0" rx="9" ry="6.0" fill="#000"/>
<ellipse cx="40" cy="684.8" rx="9" ry="5.7" fill="#000"/>
<ellipse cx="62" cy="685.2" rx="9" ry="5.5" fill="#000"/>
<ellipse cx="82" cy="684.9" rx="9" ry="5.6" fill="#000"/>
</g>
<text x="117.7" y="644.0" font-size="9">LSD1</text>
<text x="117.7" y="686.6" font-size="9">LSD1</text>
<text x="28.3" y="668.4" font-size="9">input</text>
<text x="169" y="552.8" font-size="13.7">H</text>
<text x="190.2" y="569.4" font-size="8.8">Thymocytes</text>
<line x1="191.4" y1="574.35" x2="191.4" y2="698.1" stroke="#000" stroke-width="2.2"/>
<line x1="187.10000000000002" y1="575.0" x2="191.4" y2="575.0" stroke="#000" stroke-width="1.3"/>
<text x="186.50000000000003" y="578.5084" font-size="9.8" text-anchor="end">4</text>
<line x1="187.10000000000002" y1="605.5" x2="191.4" y2="605.5" stroke="#000" stroke-width="1.3"/>
<text x="186.50000000000003" y="609.0084" font-size="9.8" text-anchor="end">3</text>
<line x1="187.10000000000002" y1="636.0" x2="191.4" y2="636.0" stroke="#000" stroke-width="1.3"/>
<text x="186.50000000000003" y="639.5084" font-size="9.8" text-anchor="end">2</text>
<line x1="187.10000000000002" y1="666.5" x2="191.4" y2="666.5" stroke="#000" stroke-width="1.3"/>
<text x="186.50000000000003" y="670.0084" font-size="9.8" text-anchor="end">1</text>
<line x1="187.10000000000002" y1="697.0" x2="191.4" y2="697.0" stroke="#000" stroke-width="1.3"/>
<text x="186.50000000000003" y="700.5084" font-size="9.8" text-anchor="end">0</text>
<line x1="190.3" y1="697.0" x2="312.2" y2="697.0" stroke="#000" stroke-width="2"/>
<text x="171.6504" y="629.2" font-size="8.8" text-anchor="middle" transform="rotate(-90 171.6504 629.2)">Fold enrichment</text>
<line x1="201.89999999999998" y1="638.2" x2="201.89999999999998" y2="644.9" stroke="#000" stroke-width="1.3"/>
<line x1="197.89999999999998" y1="638.85" x2="205.89999999999998" y2="638.85" stroke="#000" stroke-width="1.3"/>
<rect x="195.05" y="644.75" width="13.70" height="52.25" fill="#fff" stroke="#000" stroke-width="1.7"/>
<line x1="201.89999999999998" y1="698.0" x2="201.89999999999998" y2="701.0" stroke="#000" stroke-width="1.2"/>
<line x1="222.2" y1="604.0" x2="222.2" y2="642.8" stroke="#000" stroke-width="1.3"/>
<line x1="218.2" y1="604.65" x2="226.2" y2="604.65" stroke="#000" stroke-width="1.3"/>
<rect x="215.35" y="642.65" width="13.70" height="54.35" fill="url(#hat)" stroke="#000" stroke-width="1.7"/>
<line x1="222.2" y1="698.0" x2="222.2" y2="701.0" stroke="#000" stroke-width="1.2"/>
<line x1="242.5" y1="645.6" x2="242.5" y2="658.0" stroke="#000" stroke-width="1.3"/>
<line x1="238.5" y1="646.25" x2="246.5" y2="646.25" stroke="#000" stroke-width="1.3"/>
<rect x="235.65" y="657.85" width="13.70" height="39.15" fill="url(#chk2)" stroke="#000" stroke-width="1.7"/>
<line x1="242.5" y1="698.0" x2="242.5" y2="701.0" stroke="#000" stroke-width="1.2"/>
<line x1="262.8" y1="599.5" x2="262.8" y2="619.3" stroke="#000" stroke-width="1.3"/>
<line x1="258.8" y1="600.15" x2="266.8" y2="600.15" stroke="#000" stroke-width="1.3"/>
<rect x="255.95" y="619.15" width="13.70" height="77.85" fill="#fff" stroke="#000" stroke-width="1.7"/>
<line x1="262.8" y1="698.0" x2="262.8" y2="701.0" stroke="#000" stroke-width="1.2"/>
<line x1="283.09999999999997" y1="607.1" x2="283.09999999999997" y2="632.4" stroke="#000" stroke-width="1.3"/>
<line x1="279.09999999999997" y1="607.75" x2="287.09999999999997" y2="607.75" stroke="#000" stroke-width="1.3"/>
<rect x="276.25" y="632.25" width="13.70" height="64.75" fill="url(#hat)" stroke="#000" stroke-width="1.7"/>
<line x1="283.09999999999997" y1="698.0" x2="283.09999999999997" y2="701.0" stroke="#000" stroke-width="1.2"/>
<line x1="303.4" y1="635.7" x2="303.4" y2="647.4" stroke="#000" stroke-width="1.3"/>
<line x1="299.4" y1="636.35" x2="307.4" y2="636.35" stroke="#000" stroke-width="1.3"/>
<rect x="296.55" y="647.25" width="13.70" height="49.75" fill="url(#chk2)" stroke="#000" stroke-width="1.7"/>
<line x1="303.4" y1="698.0" x2="303.4" y2="701.0" stroke="#000" stroke-width="1.2"/>
<line x1="190.2" y1="706.8" x2="242.6" y2="706.8" stroke="#000" stroke-width="1.6"/>
<line x1="252.4" y1="706.8" x2="304.8" y2="706.8" stroke="#000" stroke-width="1.6"/>
<text x="219.7" y="717.0" font-size="9" text-anchor="middle">Gfi1 prom.</text>
<text x="279.6" y="717.0" font-size="9" text-anchor="middle">Id2 prom.</text>
<rect x="263.10" y="562.90" width="9.20" height="6.40" fill="#fff" stroke="#000" stroke-width="1.1"/>
<rect x="263.10" y="573.80" width="9.20" height="6.40" fill="url(#hat)" stroke="#000" stroke-width="1.1"/>
<rect x="263.10" y="584.40" width="9.20" height="6.40" fill="url(#chk3)" stroke="#000" stroke-width="1.1"/>
<text x="275.3" y="570.0" font-size="9">Gfi1<tspan font-size="5" dy="-2.6">+/+</tspan></text>
<text x="275.3" y="581.8" font-size="9">Gfi1<tspan font-size="7.6" dy="-2.4">36S/36S</tspan></text>
<text x="275.3" y="592.4" font-size="9">Gfi1<tspan font-size="7.6" dy="-2.4">36N/36N</tspan></text>
<text x="342.4" y="552.8" font-size="13.7">I</text>
<text x="427.2" y="568.6" font-size="8.9" text-anchor="middle">Hoxa9 expression in blast cells</text>
<text x="427.2" y="579.6" font-size="9" text-anchor="middle">(AML patients)</text>
<line x1="385.8" y1="584.15" x2="385.8" y2="698.8000000000001" stroke="#000" stroke-width="2.2"/>
<line x1="381.5" y1="584.8000000000001" x2="385.8" y2="584.8000000000001" stroke="#000" stroke-width="1.3"/>
<text x="380.9" y="588.3800000000001" font-size="10.0" text-anchor="end">2.0</text>
<line x1="381.5" y1="613.0250000000001" x2="385.8" y2="613.0250000000001" stroke="#000" stroke-width="1.3"/>
<text x="380.9" y="616.6050000000001" font-size="10.0" text-anchor="end">1.5</text>
<line x1="381.5" y1="641.25" x2="385.8" y2="641.25" stroke="#000" stroke-width="1.3"/>
<text x="380.9" y="644.83" font-size="10.0" text-anchor="end">1.0</text>
<line x1="381.5" y1="669.475" x2="385.8" y2="669.475" stroke="#000" stroke-width="1.3"/>
<text x="380.9" y="673.0550000000001" font-size="10.0" text-anchor="end">0.5</text>
<line x1="381.5" y1="697.7" x2="385.8" y2="697.7" stroke="#000" stroke-width="1.3"/>
<text x="380.9" y="701.2800000000001" font-size="10.0" text-anchor="end">0.0</text>
<line x1="384.7" y1="697.7" x2="462.6" y2="697.7" stroke="#000" stroke-width="2"/>
<text x="362.8504" y="634.5" font-size="8.8" text-anchor="middle" transform="rotate(-90 362.8504 634.5)">Fold expression</text>
<line x1="405.7" y1="600.6" x2="405.7" y2="622" stroke="#000" stroke-width="1.3"/>
<line x1="399.0" y1="601.25" x2="412.4" y2="601.25" stroke="#000" stroke-width="1.3"/>
<rect x="393.25" y="622.15" width="24.90" height="75.55" fill="#000" stroke="#000" stroke-width="1.7"/>
<line x1="444.0" y1="642.2" x2="444.0" y2="659" stroke="#000" stroke-width="1.3"/>
<line x1="437.3" y1="642.85" x2="450.7" y2="642.85" stroke="#000" stroke-width="1.3"/>
<rect x="431.65" y="658.75" width="24.70" height="38.95" fill="#fff" stroke="#000" stroke-width="1.7"/>
<line x1="405.7" y1="698.7" x2="405.7" y2="701.9000000000001" stroke="#000" stroke-width="1.2"/>
<line x1="444.0" y1="698.7" x2="444.0" y2="701.9000000000001" stroke="#000" stroke-width="1.2"/>
<text x="444.6" y="595.0" font-size="8.8">Patient genotype:</text>
<rect x="429.60" y="608.20" width="11.40" height="8.00" fill="#fff" stroke="#000" stroke-width="1.2"/>
<rect x="429.60" y="621.40" width="11.40" height="8.80" fill="#000" stroke="#000" stroke-width="1.2"/>
<text x="444.2" y="617.3" font-size="9.0">GFI1<tspan font-size="7.6" dy="-4.1">36S/36S</tspan></text>
<text x="444.2" y="627.5" font-size="9.0">GFI1<tspan font-size="7.6" dy="-4.1">36N/36S</tspan></text>
<text x="498.8" y="616.6" font-size="8.5">n=4</text>
<text x="498.8" y="627.2" font-size="8.5">n=4</text>
</svg>
</body></html>
